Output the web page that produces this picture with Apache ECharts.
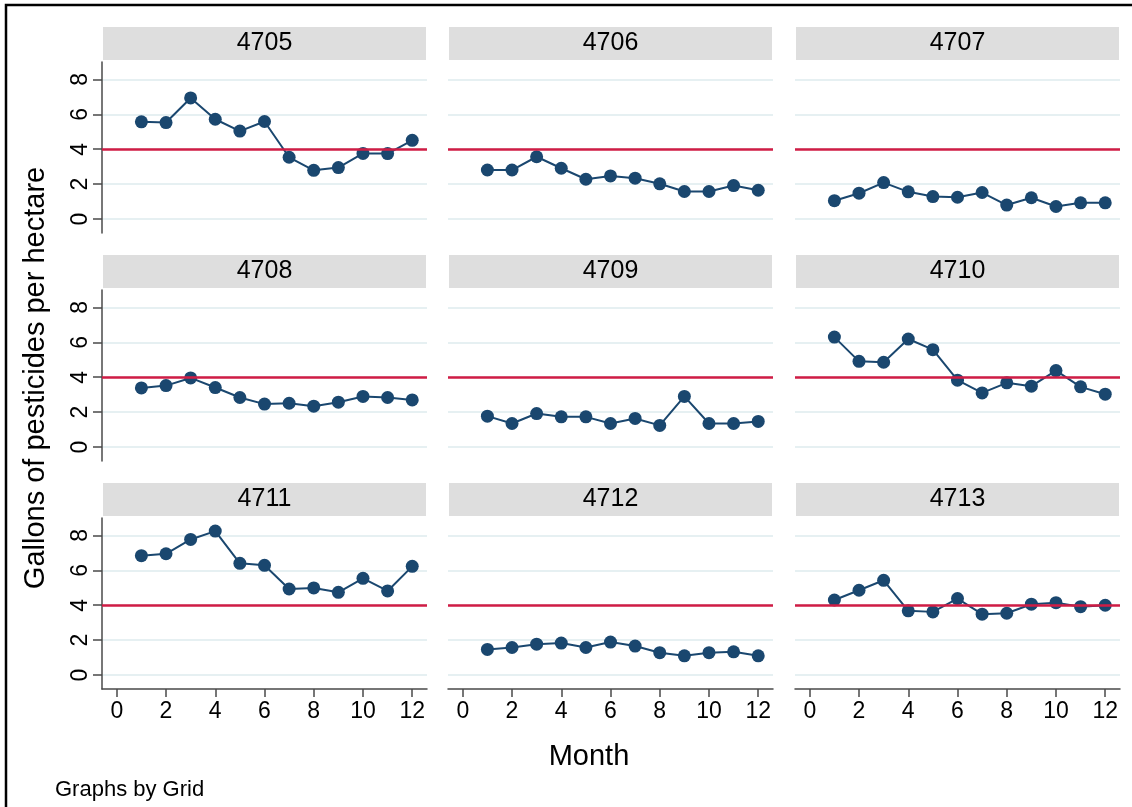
<!DOCTYPE html>
<html>
<head>
<meta charset="utf-8">
<title>Gallons of pesticides per hectare by Grid</title>
<script src="https://cdn.jsdelivr.net/npm/echarts@6/dist/echarts.min.js"></script>
<style>
  html, body { margin: 0; padding: 0; background: #fff; }
  #chart { width: 1132px; height: 807px; }
</style>
</head>
<body>
<div id="chart"></div>
<script>
// Monthly pesticide use (gallons per hectare) for each grid
const months = [1, 2, 3, 4, 5, 6, 7, 8, 9, 10, 11, 12];
const gridNames = ['4705', '4706', '4707', '4708', '4709', '4710', '4711', '4712', '4713'];

const g4705 = [5.57, 5.53, 6.94, 5.72, 5.04, 5.59, 3.54, 2.79, 2.95, 3.76, 3.75, 4.51];
const g4706 = [2.81, 2.81, 3.57, 2.91, 2.28, 2.47, 2.34, 2.02, 1.58, 1.58, 1.92, 1.65];
const g4707 = [1.05, 1.48, 2.09, 1.56, 1.29, 1.25, 1.52, 0.80, 1.22, 0.72, 0.93, 0.93];
const g4708 = [3.39, 3.52, 3.96, 3.41, 2.84, 2.46, 2.51, 2.34, 2.57, 2.90, 2.84, 2.70];
const g4709 = [1.77, 1.35, 1.92, 1.73, 1.73, 1.35, 1.64, 1.24, 2.90, 1.35, 1.35, 1.47];
const g4710 = [6.30, 4.91, 4.86, 6.19, 5.58, 3.83, 3.10, 3.68, 3.49, 4.38, 3.45, 3.03];
const g4711 = [6.84, 6.95, 7.77, 8.25, 6.40, 6.29, 4.93, 4.99, 4.74, 5.54, 4.82, 6.23];
const g4712 = [1.47, 1.58, 1.77, 1.83, 1.58, 1.89, 1.66, 1.28, 1.10, 1.28, 1.33, 1.10];
const g4713 = [4.30, 4.86, 5.43, 3.68, 3.62, 4.38, 3.49, 3.54, 4.06, 4.15, 3.92, 4.00];

const gridValues = [g4705, g4706, g4707, g4708, g4709, g4710, g4711, g4712, g4713];

const yTicks = [0, 2, 4, 6, 8];
const xTicks = [0, 2, 4, 6, 8, 10, 12];
const threshold = 4;

// Panel layout (pixels)
const colLeft = [102, 448, 795];
const rowTop = [62, 290, 518];
const panelW = 325;
const panelH = 171;
const headerH = 33;

const FONT = '"Liberation Sans", Arial, Helvetica, sans-serif';
const NAVY = '#1A476F';
const RED = '#D01C45';
const GRIDLINE = '#E6F0F2';
const AXIS = '#4A4A4A';

const grids = [], xAxes = [], yAxes = [], series = [], graphics = [];

gridNames.forEach((name, i) => {
  const r = Math.floor(i / 3), c = i % 3;
  const isLeft = c === 0, isBottom = r === 2;

  grids.push({ left: colLeft[c], top: rowTop[r], width: panelW, height: panelH, containLabel: false });

  xAxes.push({
    type: 'value', gridIndex: i, min: -0.6, max: 12.6,
    axisLine: { show: isBottom, onZero: false, lineStyle: { color: AXIS, width: 1.5 } },
    axisTick: { show: isBottom, length: 8, customValues: xTicks, lineStyle: { color: AXIS, width: 1.5 } },
    axisLabel: { show: isBottom, customValues: xTicks, margin: 11, fontSize: 23, color: '#000', fontFamily: FONT },
    splitLine: { show: false }
  });

  yAxes.push({
    type: 'value', gridIndex: i, min: -0.8, max: 9,
    axisLine: { show: isLeft, onZero: false, lineStyle: { color: AXIS, width: 1.5 } },
    axisTick: { show: isLeft, length: 9, customValues: yTicks, lineStyle: { color: AXIS, width: 1.5 } },
    axisLabel: { show: isLeft, customValues: yTicks, rotate: 90, margin: 10, fontSize: 23, color: '#000', fontFamily: FONT },
    splitLine: { show: true, lineStyle: { color: GRIDLINE, width: 2 } }
  });

  series.push({
    name: name, type: 'line', xAxisIndex: i, yAxisIndex: i,
    data: months.map((m, k) => [m, gridValues[i][k]]),
    symbol: 'circle', symbolSize: 13,
    itemStyle: { color: NAVY },
    lineStyle: { color: NAVY, width: 2 },
    z: 3,
    markLine: {
      silent: true, symbol: ['none', 'none'], animation: false,
      label: { show: false },
      lineStyle: { color: RED, width: 2.5, type: 'solid' },
      data: [{ yAxis: threshold }]
    }
  });

  // Panel header strip with grid name
  graphics.push({
    type: 'rect',
    shape: { x: colLeft[c] + 1, y: rowTop[r] - headerH - 2, width: panelW - 2, height: headerH },
    style: { fill: '#DEDEDE' }, silent: true
  });
  graphics.push({
    type: 'text',
    x: colLeft[c] + panelW / 2, y: rowTop[r] - 2 - headerH / 2,
    style: { text: name, fill: '#000', font: '25px ' + FONT, textAlign: 'center', textVerticalAlign: 'middle' },
    silent: true
  });
});

// Outer frame
graphics.push({
  type: 'rect', shape: { x: 6, y: 5, width: 1300, height: 900 },
  style: { fill: 'none', stroke: '#000', lineWidth: 2.5 }, silent: true
});
// Axis titles and note
graphics.push({
  type: 'text', x: 36, y: 378, rotation: Math.PI / 2,
  style: { text: 'Gallons of pesticides per hectare', fill: '#000', font: '29px ' + FONT, textAlign: 'center', textVerticalAlign: 'middle' },
  silent: true
});
graphics.push({
  type: 'text', x: 589, y: 757,
  style: { text: 'Month', fill: '#000', font: '29px ' + FONT, textAlign: 'center', textVerticalAlign: 'middle' },
  silent: true
});
graphics.push({
  type: 'text', x: 55, y: 790,
  style: { text: 'Graphs by Grid', fill: '#000', font: '22px ' + FONT, textAlign: 'left', textVerticalAlign: 'middle' },
  silent: true
});

const chart = echarts.init(document.getElementById('chart'), null, { renderer: 'canvas' });
chart.setOption({
  animation: false,
  backgroundColor: '#fff',
  grid: grids,
  xAxis: xAxes,
  yAxis: yAxes,
  series: series,
  graphic: graphics
});
</script>
</body>
</html>
